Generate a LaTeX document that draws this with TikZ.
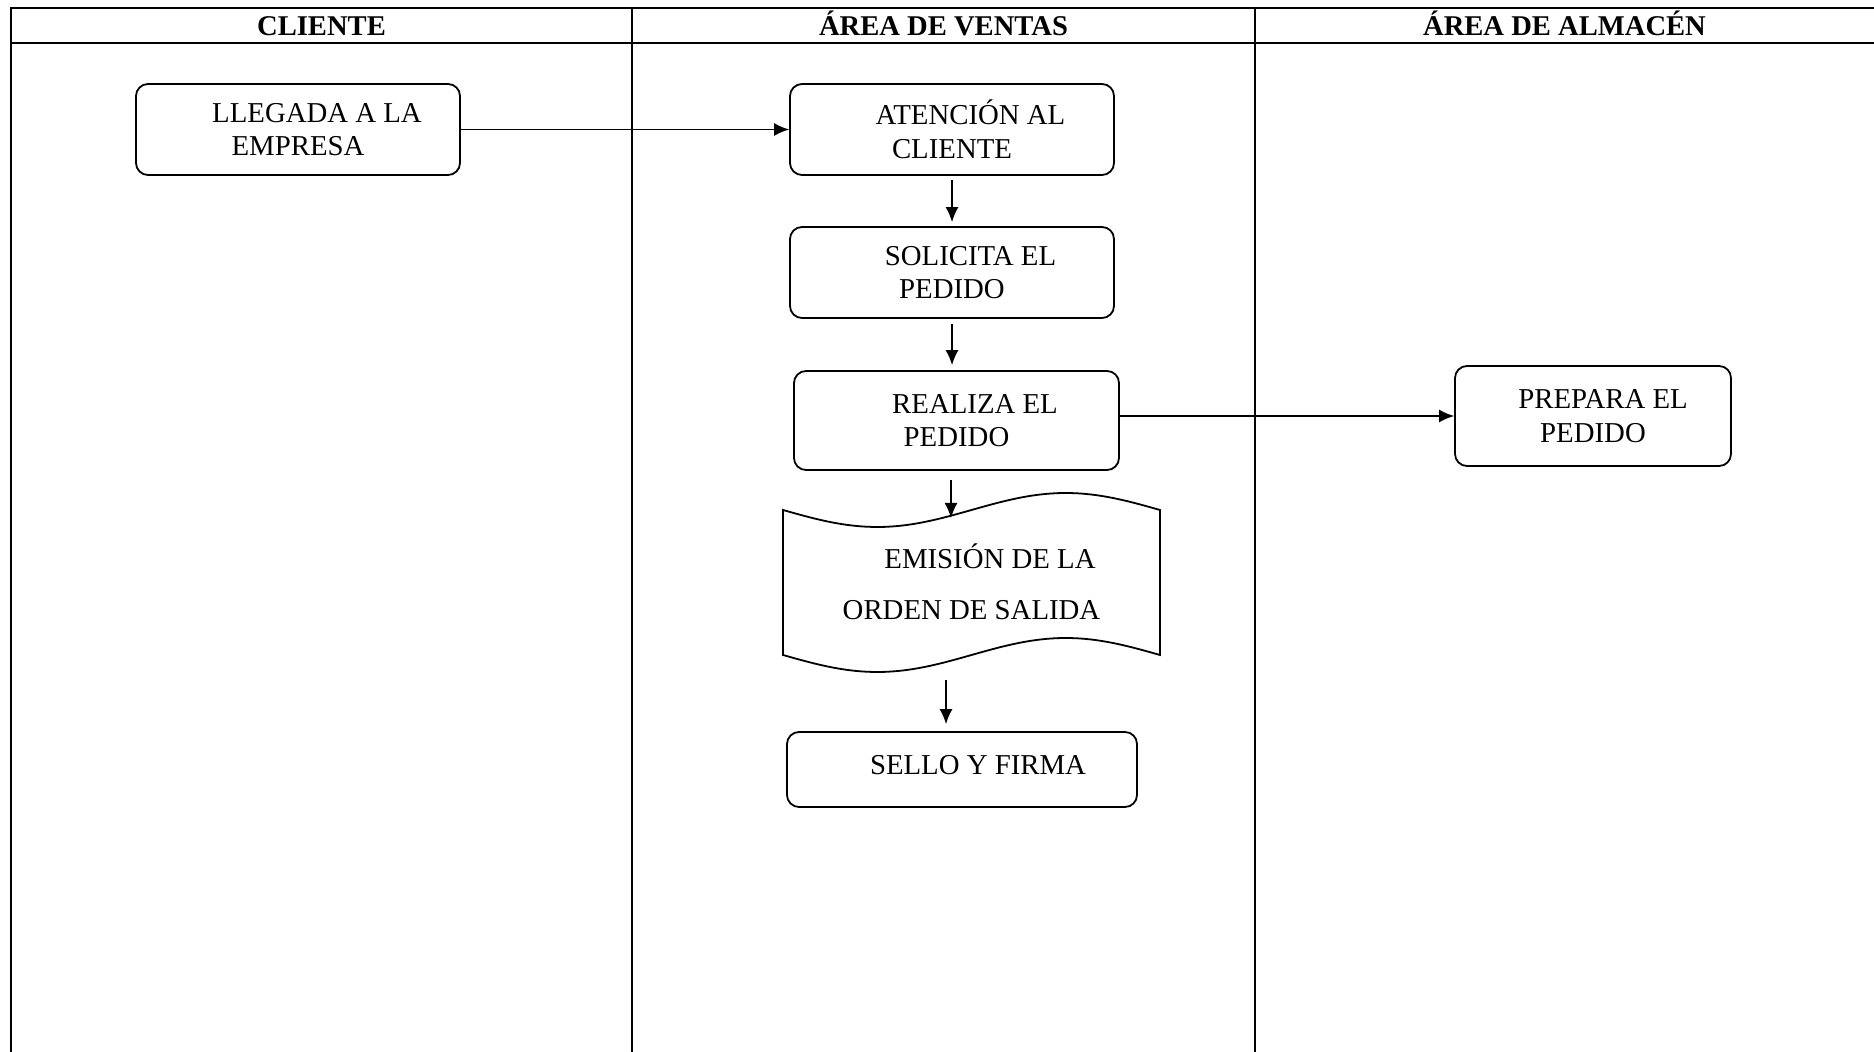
\documentclass[tikz,border=0pt]{standalone}
\usepackage{fontspec}
\setmainfont{Liberation Serif}
\usetikzlibrary{arrows.meta}
\begin{document}
\begin{tikzpicture}[x=0.5pt,y=-0.5pt,
  rule/.style={line width=1pt},
  lane/.style={line width=0.7pt},
  proc/.style={draw, line width=0.9pt, rounded corners=6pt, align=center,
    inner sep=0pt, font=\fontsize{14.4}{16.75}\selectfont},
  head/.style={font=\bfseries\fontsize{14.3}{16}\selectfont,
    text height=10pt, text depth=0pt, inner sep=0pt},
  flow/.style={line width=0.75pt, -{Latex[length=7.5pt,width=6.5pt]}},
]
\useasboundingbox (0,0) rectangle (1874,1052);

% swimlane table
\draw[rule] (11,1052) -- (11,8) -- (1874,8);
\draw[rule] (11,43) -- (1874,43);
\draw[lane] (632,8) -- (632,1052);
\draw[lane] (1255,8) -- (1255,1052);

\node[head] (hcliente) at (321.5,25.5) {CLIENTE};
\node[head] (hventas) at (943.5,25.5) {ÁREA DE VENTAS};
\node[head] (halmacen) at (1564.5,25.5) {ÁREA DE ALMACÉN};

% process steps
\node[proc, minimum width=162pt, minimum height=45.5pt] (llegada) at (298,129.5)
  {\hspace*{19pt}LLEGADA A LA\\EMPRESA};
\node[proc, minimum width=162pt, minimum height=45.5pt] (atencion) at (952,129.5)
  {\hspace*{18.5pt}ATENCIÓN AL\\CLIENTE};
\node[proc, minimum width=162pt, minimum height=45.5pt] (solicita) at (952,272.5)
  {\hspace*{18.5pt}SOLICITA EL\\PEDIDO};
\node[proc, minimum width=162.5pt, minimum height=49.5pt] (realiza) at (956.5,420.5)
  {\hspace*{18.5pt}REALIZA EL\\PEDIDO};
\node[proc, minimum width=138pt, minimum height=50pt] (prepara) at (1593,416)
  {\hspace*{10pt}PREPARA EL\\PEDIDO};

% document (punched tape) symbol: wavy top and bottom edges
\draw[line width=0.9pt]
  plot[domain=0:360,samples=60] ({783+\x/360*377},{510+17*sin(\x)})
  -- plot[domain=360:0,samples=60] ({783+\x/360*377},{655+17*sin(\x)})
  -- cycle;
\node[align=center, font=\fontsize{14.4}{25.5}\selectfont] (emision) at (971.5,582)
  {\hspace*{18.5pt}EMISIÓN DE LA\\ORDEN DE SALIDA};
\coordinate (docin) at (951,518);
\coordinate (docout) at (946,662);

\node[proc, minimum width=175pt, minimum height=37.5pt] (sello) at (962,769.5)
  {\hspace*{16pt}\raisebox{5pt}{SELLO Y FIRMA}};

% connectors
\draw[flow] (llegada.east) -- (atencion.west);
\draw[flow, shorten <=2pt, shorten >=2pt] (atencion.south) -- (solicita.north);
\draw[flow, shorten <=2.5pt, shorten >=2.5pt] (solicita.south) -- (solicita.south |- realiza.north);
\draw[flow, shorten <=4.5pt] (realiza.south -| docin) -- (docin);
\draw[flow, shorten <=9pt, shorten >=3.5pt] (docout) -- (docout |- sello.north);
\draw[flow] (prepara.west -| realiza.east) -- (prepara.west);
\end{tikzpicture}
\end{document}
